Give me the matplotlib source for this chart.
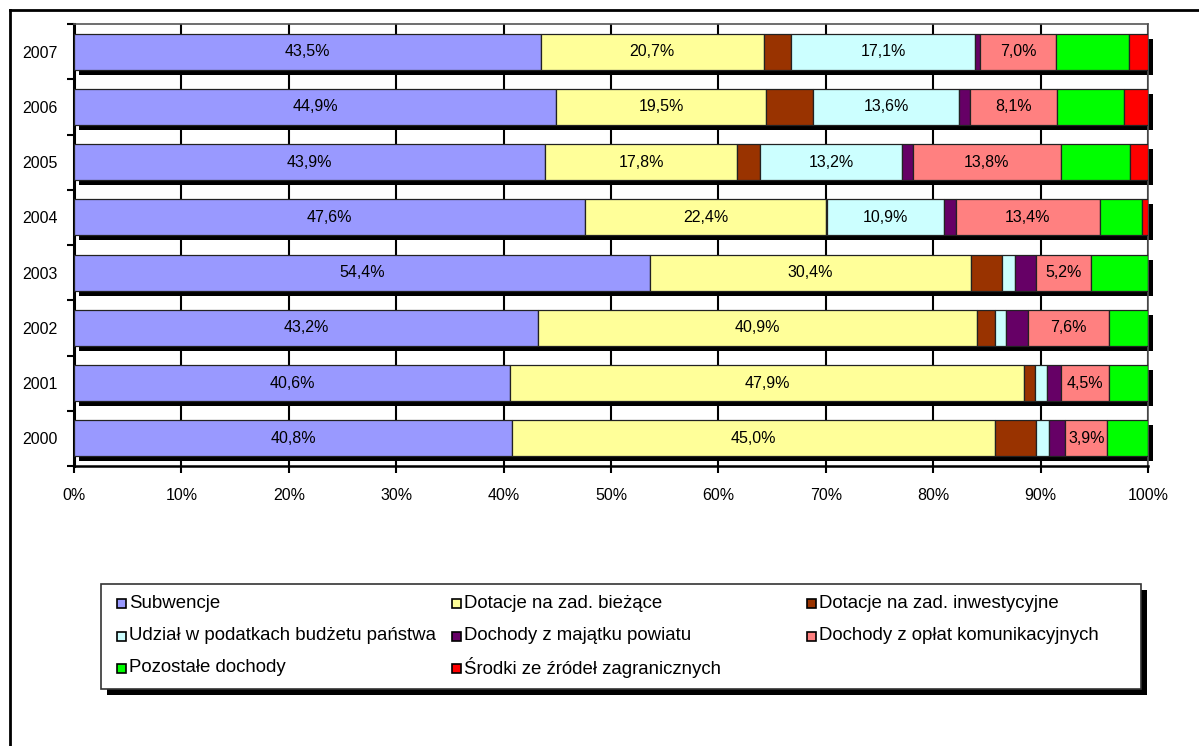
import matplotlib
matplotlib.use("Agg")
import matplotlib.pyplot as plt
import numpy as np
from matplotlib.transforms import offset_copy
from matplotlib.patches import Rectangle
from matplotlib.lines import Line2D

plt.rcParams['font.family'] = ['Liberation Sans', 'DejaVu Sans']

years = ['2000', '2001', '2002', '2003', '2004', '2005', '2006', '2007']
subwencje = [40.8, 40.6, 43.2, 54.4, 47.6, 43.9, 44.9, 43.5]
dot_biezace = [45.0, 47.9, 40.9, 30.4, 22.4, 17.8, 19.5, 20.7]
dot_inwest = [3.8, 1.0, 1.7, 2.9, 0.1, 2.2, 4.4, 2.6]
udzial = [1.2, 1.1, 1.0, 1.2, 10.9, 13.2, 13.6, 17.1]
majatek = [1.5, 1.3, 2.0, 2.0, 1.1, 1.0, 1.0, 0.5]
oplaty = [3.9, 4.5, 7.6, 5.2, 13.4, 13.8, 8.1, 7.0]
pozostale = [3.8, 3.6, 3.6, 5.4, 3.9, 6.4, 6.3, 6.8]
zagraniczne = [0.0, 0.0, 0.0, 0.0, 0.6, 1.7, 2.2, 1.8]

series_names = ['Subwencje', 'Dotacje na zad. bieżące', 'Dotacje na zad. inwestycyjne',
                'Udział w podatkach budżetu państwa', 'Dochody z majątku powiatu',
                'Dochody z opłat komunikacyjnych', 'Pozostałe dochody',
                'Środki ze źródeł zagranicznych']
series_colors = ['#9999FF', '#FFFF99', '#993300', '#CCFFFF', '#660066', '#FF8080',
                 '#00FF00', '#FF0000']
labelled_series = [0, 1, 3, 5]
xtick_labels = ['0%', '10%', '20%', '30%', '40%', '50%', '60%', '70%', '80%', '90%', '100%']

data = np.array([subwencje, dot_biezace, dot_inwest, udzial, majatek, oplaty,
                 pozostale, zagraniczne])
totals = data.sum(axis=0)
shares = data / totals * 100.0

FS = 11.5
LFS = 13.4

W, H = 1199, 746
fig = plt.figure(figsize=(W / 100, H / 100), dpi=100)
ax = fig.add_axes([74 / W, 1 - 466 / H, (1148 - 74) / W, (466 - 24) / H])

ypos = np.arange(len(years))
bh = 0.65

# shadow behind each row
shadow_tr = offset_copy(ax.transData, fig=fig, x=5, y=-5, units='dots')
shadow = ax.barh(ypos, 100, height=bh, left=0, color='black', edgecolor='none',
                 transform=shadow_tr, zorder=2)
for p in shadow:
    p.set_clip_on(False)

left = np.zeros(len(years))
for i in range(len(series_names)):
    ax.barh(ypos, shares[i], height=bh, left=left, color=series_colors[i],
            edgecolor='#222222', linewidth=0.9, zorder=3)
    if i in labelled_series:
        for j in range(len(years)):
            if data[i][j] >= 3.5:
                ax.text(left[j] + shares[i][j] / 2, ypos[j],
                        f"{data[i][j]:.1f}%".replace('.', ','),
                        ha='center', va='center', fontsize=FS, color='black', zorder=4)
    left = left + shares[i]

ax.set_xlim(0, 100)
ax.set_ylim(-0.5, len(years) - 0.5)
ax.set_xticks(np.arange(0, 101, 10))
ax.set_xticklabels(xtick_labels, fontsize=FS)
ax.set_yticks(ypos)
ax.set_yticklabels(years, fontsize=FS)
ax.set_yticks(np.arange(-0.5, len(years), 1.0), minor=True)
ax.tick_params(axis='y', which='major', length=0, pad=12)
ax.tick_params(axis='y', which='minor', length=5, width=1.5, direction='out', color='black')
ax.tick_params(axis='x', which='major', length=5, width=1.5, direction='out', pad=11)
ax.xaxis.grid(True, color='black', linewidth=1.5, zorder=0)
ax.set_axisbelow(True)

ax.spines['left'].set_linewidth(2.2)
ax.spines['left'].set_color('black')
ax.spines['bottom'].set_linewidth(1.8)
ax.spines['bottom'].set_color('black')
ax.spines['top'].set_linewidth(1.2)
ax.spines['top'].set_color('#555555')
ax.spines['right'].set_linewidth(1.2)
ax.spines['right'].set_color('#555555')

# outer chart frame (extends past right/bottom edges)
fig.add_artist(Line2D([10 / W, 1.0], [1 - 9.5 / H, 1 - 9.5 / H], color='black', lw=2))
fig.add_artist(Line2D([10 / W, 10 / W], [0.0, 1 - 9.5 / H], color='black', lw=2))

# legend box with shadow
lx0, lx1, ly0, ly1 = 101, 1141, 584, 689
fig.add_artist(Rectangle(((lx0 + 6) / W, 1 - (ly1 + 6) / H), (lx1 - lx0) / W, (ly1 - ly0) / H,
                         transform=fig.transFigure, facecolor='black', edgecolor='none', zorder=5))
fig.add_artist(Rectangle((lx0 / W, 1 - ly1 / H), (lx1 - lx0) / W, (ly1 - ly0) / H,
                         transform=fig.transFigure, facecolor='white', edgecolor='#333333',
                         linewidth=1.2, zorder=6))

col_x = [117, 452, 807]
row_y = [603, 636, 668]
msz = 9
for k, name in enumerate(series_names):
    r, c = divmod(k, 3)
    mx, my = col_x[c], row_y[r]
    fig.add_artist(Rectangle((mx / W, 1 - (my + msz / 2) / H), msz / W, msz / H,
                             transform=fig.transFigure, facecolor=series_colors[k],
                             edgecolor='black', linewidth=1.2, zorder=7))
    fig.text((mx + msz + 3) / W, 1 - my / H, name, ha='left', va='center',
             fontsize=LFS, color='black', zorder=7)

fig.savefig('out.png', dpi=100)
